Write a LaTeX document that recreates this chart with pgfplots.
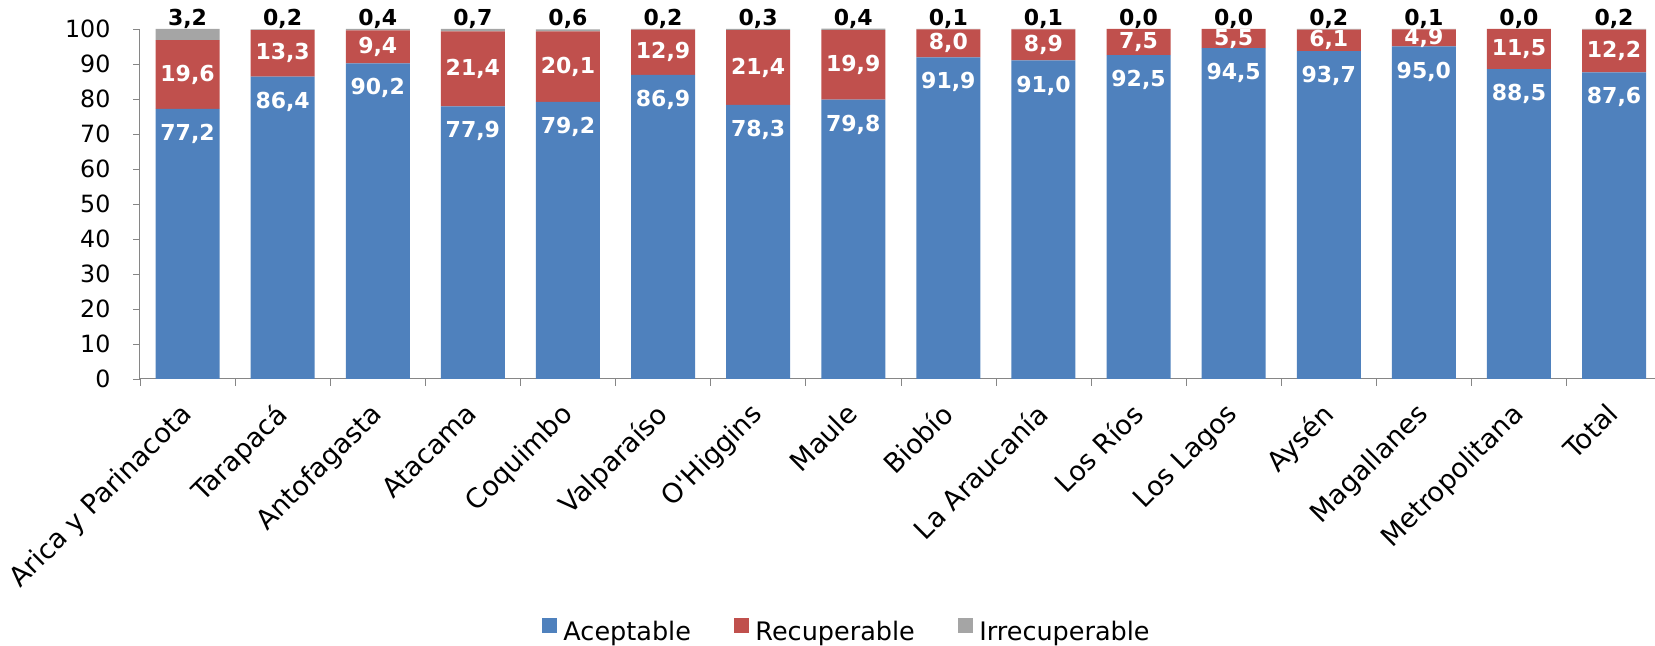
\documentclass[border=0pt]{standalone}
\usepackage{fontspec}
\setmainfont{DejaVu Sans}
\newfontfamily\plainfont{DejaVu Sans}
\usepackage{pgfplots}
\usepackage{pgfplotstable}
\pgfplotsset{compat=1.18}
\definecolor{acep}{HTML}{4F81BD}
\definecolor{recu}{HTML}{C0504D}
\definecolor{irre}{HTML}{A5A5A5}
\definecolor{axisgray}{HTML}{868686}

% i = category index, a = Aceptable, r = Recuperable, g = Irrecuperable
\pgfplotstableread{
i  a     r     g
0  77.2  19.6  3.2
1  86.4  13.3  0.2
2  90.2  9.4   0.4
3  77.9  21.4  0.7
4  79.2  20.1  0.6
5  86.9  12.9  0.2
6  78.3  21.4  0.3
7  79.8  19.9  0.4
8  91.9  8.0   0.1
9  91.0  8.9   0.1
10 92.5  7.5   0.0
11 94.5  5.5   0.0
12 93.7  6.1   0.2
13 95.0  4.9   0.1
14 88.5  11.5  0.0
15 87.6  12.2  0.2
}\calidad

\tikzset{lbl/.style={font=\fontsize{8.8}{10}\selectfont\bfseries}}
\pgfplotsset{
  geom/.style={
    at={(56pt,106.8pt)}, anchor=south west,
    scale only axis, width=608.64pt, height=140pt,
    xmin=-0.5, xmax=15.5, ymin=0, ymax=100, clip=false,
    /pgf/number format/assume math mode=true,
  },
  vals/.style={point meta=explicit,
    nodes near coords={\pgfmathprintnumber[fixed,fixed zerofill,precision=1,use comma]{\pgfplotspointmeta}}},
}

\begin{document}
\begin{tikzpicture}
\useasboundingbox (0,0) rectangle (662pt,258.4pt);
\begin{axis}[
  geom,
  ybar stacked, bar width=25.6pt,
  axis x line*=bottom, axis y line*=left,
  axis line style={draw=axisgray},
  tick align=outside,
  major tick length=2.8pt,
  ytick={0,10,...,100},
  ytick style={draw=axisgray},
  xtick={0,...,15},
  xtick style={draw=none},
  extra x ticks={-0.5,0.5,...,15.5},
  extra x tick labels={},
  extra x tick style={xtick style={draw=axisgray}},
  xticklabels={Arica y Parinacota, Tarapacá, Antofagasta, Atacama, Coquimbo,
    Valparaíso, O{\plainfont'}Higgins, Maule, Biobío, La Araucanía, Los Ríos, Los Lagos,
    Aysén, Magallanes, Metropolitana, Total},
  xticklabel style={xshift=-3.5pt, yshift=-4.5pt, rotate=45, anchor=north east,
    inner sep=1pt, font=\fontsize{10.8}{13}\selectfont},
  yticklabel style={xshift=-5.5pt, font=\fontsize{9.5}{11}\selectfont},
  legend style={at={(0.466,-0.724)}, anchor=center, draw=none,
    legend columns=-1, font=\fontsize{10.2}{12}\selectfont,
    nodes={inner sep=2.4pt},
    /tikz/every even column/.append style={column sep=15pt}},
  legend image code/.code={\fill[#1] (0pt,-0.3pt) rectangle (6pt,5.7pt);},
]
  \addplot[fill=acep, draw=none, vals,
    visualization depends on={\thisrow{a} \as \ah},
    every node near coord/.append style={lbl, anchor=center,
      yshift={0.7pt*\ah-10pt}, text=white}]
    table[x=i, y=a, meta=a] {\calidad};
  \addplot[fill=recu, draw=none, vals,
    every node near coord/.append style={lbl, anchor=center, text=white}]
    table[x=i, y=r, meta=r] {\calidad};
  \addplot[fill=irre, draw=none]
    table[x=i, y=g] {\calidad};
  \legend{Aceptable, Recuperable, Irrecuperable}
\end{axis}
% labels of the Irrecuperable share, set above the top of each stack
\begin{axis}[geom, hide axis]
  \addplot[draw=none, mark=none, vals,
    every node near coord/.append style={lbl, anchor=center, yshift=4pt, text=black}]
    table[x=i, y expr=\thisrow{a}+\thisrow{r}+\thisrow{g}, meta=g] {\calidad};
\end{axis}
\end{tikzpicture}
\end{document}
